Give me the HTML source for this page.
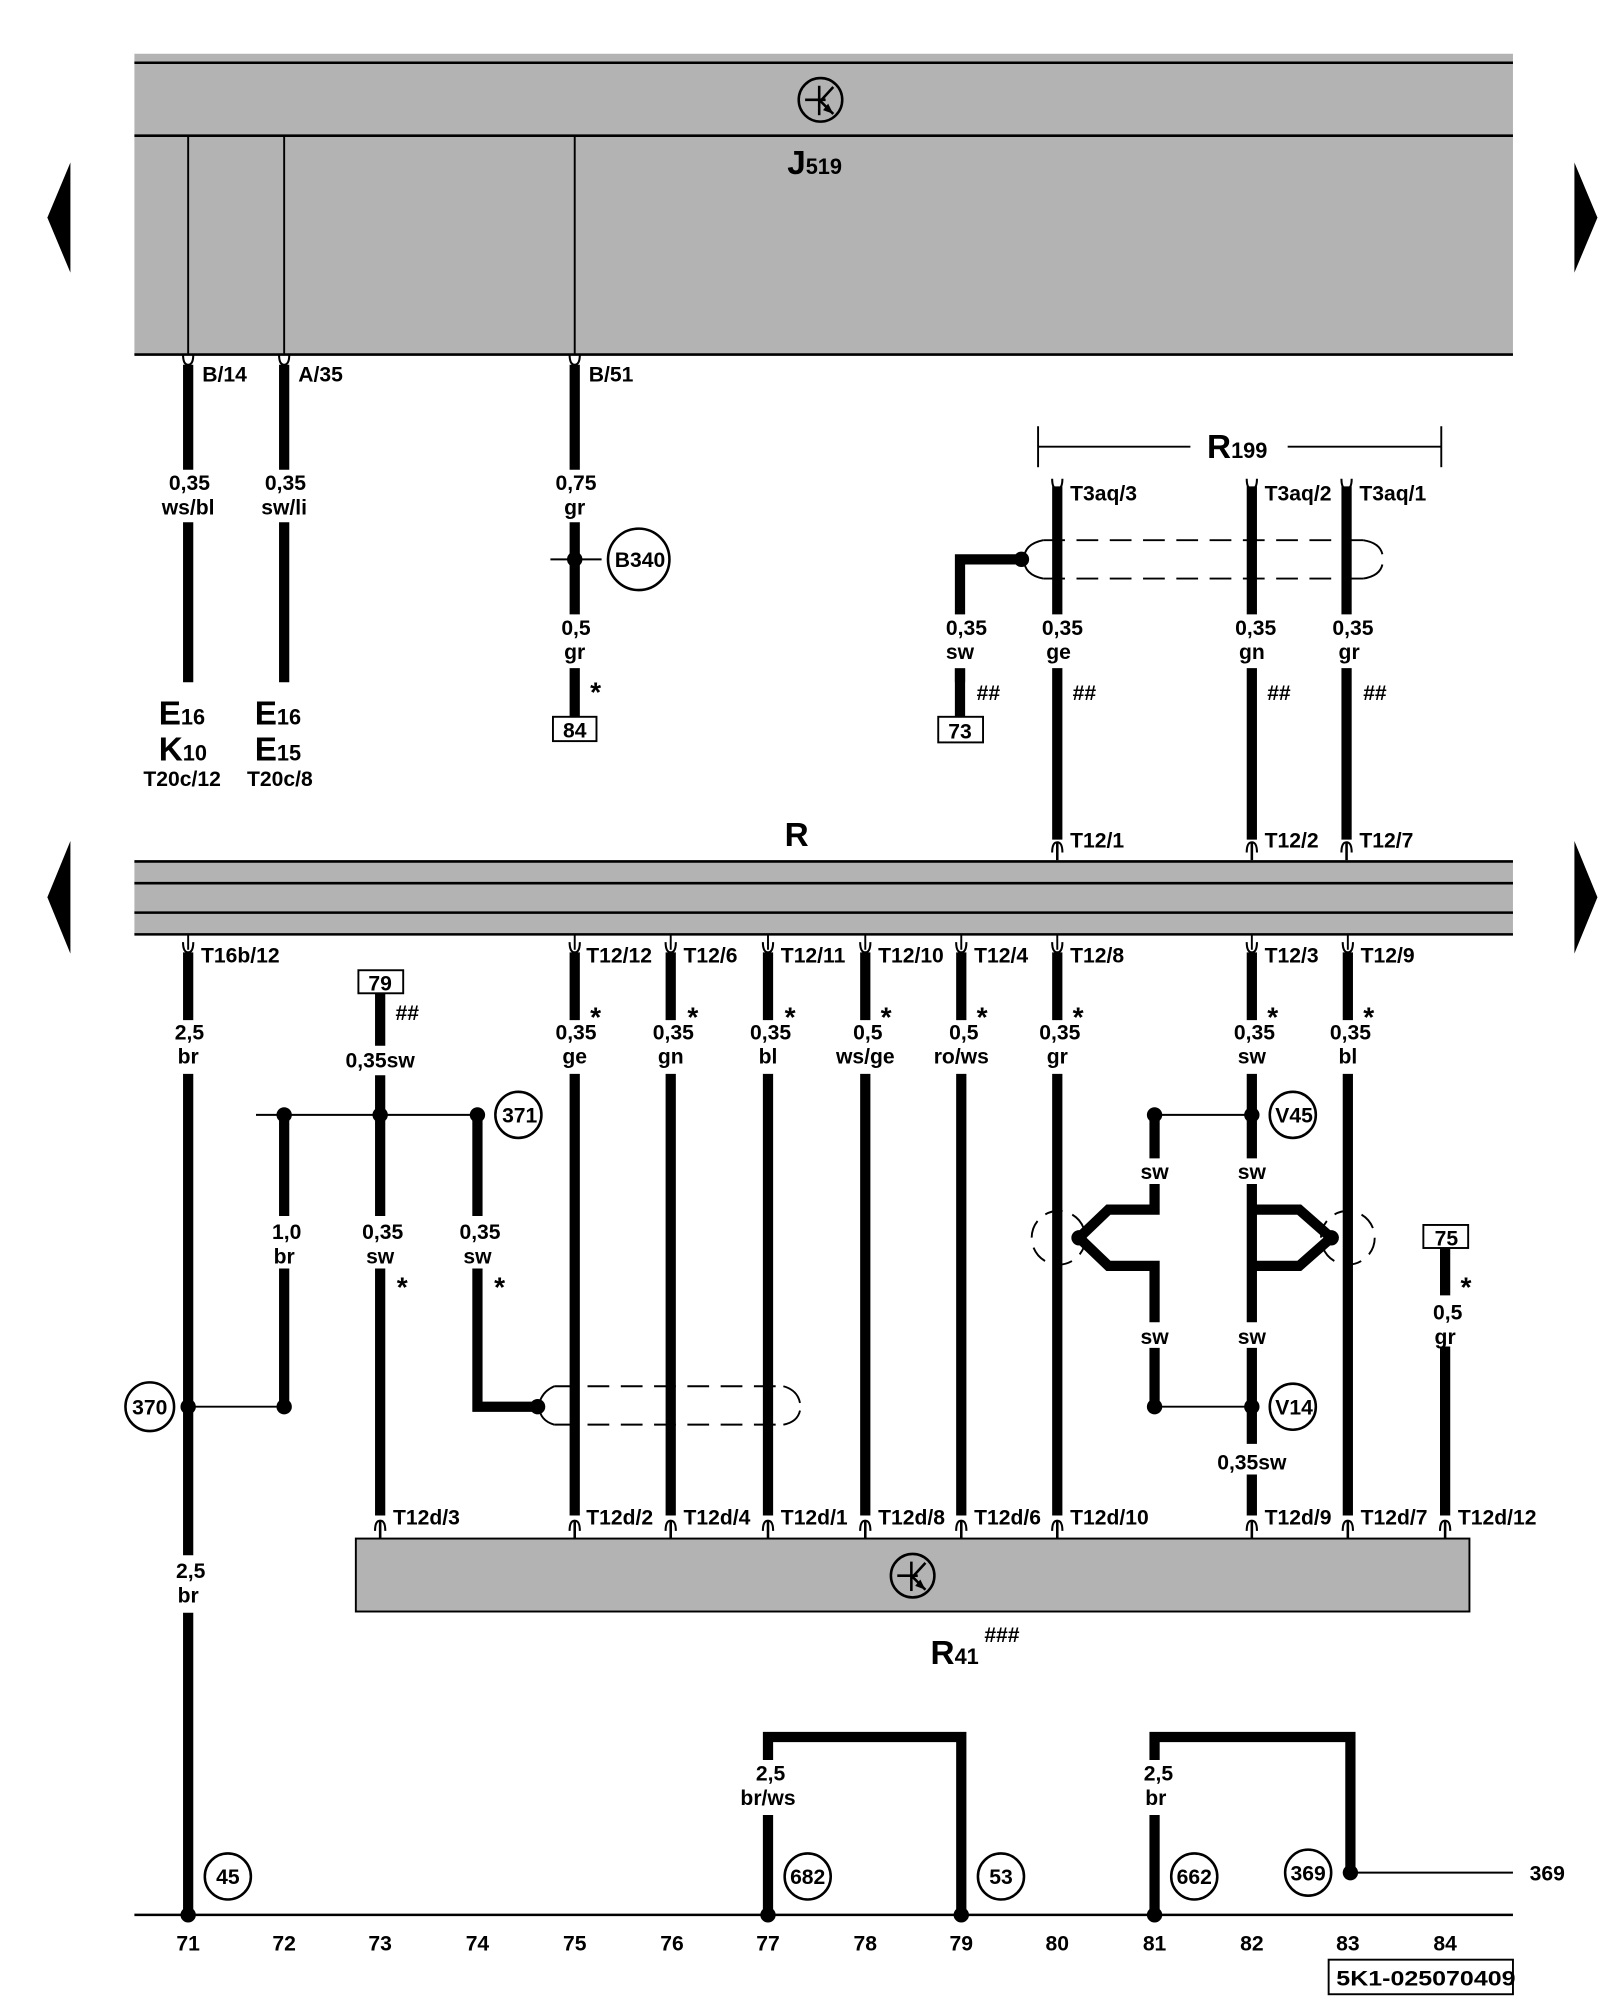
<!DOCTYPE html>
<html><head><meta charset="utf-8"><style>
html,body{margin:0;padding:0;background:#fff;}
svg{display:block;}
text{font-family:"Liberation Sans",sans-serif;font-weight:bold;fill:#000;}
.t{font-size:16.5px;}
.c{text-anchor:middle;}
.big{font-size:26px;}
.sub{font-size:17px;}
</style></head><body>
<svg width="1600" height="2000" viewBox="0 0 1250 1562.5" xmlns="http://www.w3.org/2000/svg">
<defs>
<g id="pinD"><path d="M-4,-6 Q-4,2 0,2 Q4,2 4,-6" fill="none" stroke="#000" stroke-width="1.6"/></g>
<g id="pinU"><path d="M-4,6 Q-4,-2 0,-2 Q4,-2 4,6" fill="none" stroke="#000" stroke-width="1.6"/><line x1="0" y1="-2" x2="0" y2="12" stroke="#000" stroke-width="2"/></g>
<g id="ecu"><circle r="17" fill="none" stroke="#000" stroke-width="2"/><line x1="-12" y1="0" x2="4" y2="0" stroke="#000" stroke-width="2"/><line x1="-1" y1="-11" x2="-1" y2="12" stroke="#000" stroke-width="2"/><line x1="-1" y1="2" x2="10" y2="-10" stroke="#000" stroke-width="2"/><line x1="-1" y1="0" x2="10" y2="11" stroke="#000" stroke-width="2"/><path d="M10,11 L2,8 L6,3 Z" fill="#000"/></g>
</defs>

<!-- J519 box -->
<rect x="105" y="42" width="1077" height="235" fill="#b3b3b3"/>
<line x1="105" y1="49" x2="1182" y2="49" stroke="#000" stroke-width="2"/>
<line x1="105" y1="106" x2="1182" y2="106" stroke="#000" stroke-width="2"/>
<line x1="105" y1="277" x2="1182" y2="277" stroke="#000" stroke-width="2"/>
<use href="#ecu" x="641" y="78"/>
<text x="615" y="136" style="font-size:26px">J<tspan class="sub">519</tspan></text>
<g stroke="#000" stroke-width="1.5"><line x1="147" y1="106" x2="147" y2="277"/><line x1="222" y1="106" x2="222" y2="277"/><line x1="449" y1="106" x2="449" y2="277"/></g>

<!-- side arrows -->
<polygon points="55,127 55,213 37,170" fill="#000"/>
<polygon points="1230,127 1230,213 1248,170" fill="#000"/>
<polygon points="55,657 55,745 37,701" fill="#000"/>
<polygon points="1230,657 1230,745 1248,701" fill="#000"/>

<!-- wires from J519 -->
<g stroke="#000" stroke-width="8">
<line x1="147" y1="285" x2="147" y2="367"/><line x1="147" y1="408" x2="147" y2="533"/>
<line x1="222" y1="285" x2="222" y2="367"/><line x1="222" y1="408" x2="222" y2="533"/>
<line x1="449" y1="285" x2="449" y2="367"/><line x1="449" y1="408" x2="449" y2="480"/><line x1="449" y1="522" x2="449" y2="560"/>
</g>
<use href="#pinD" x="147" y="283"/><use href="#pinD" x="222" y="283"/><use href="#pinD" x="449" y="283"/>
<text class="t" x="158" y="298">B/14</text><text class="t" x="233" y="298">A/35</text><text class="t" x="460" y="298">B/51</text>
<text class="t c" x="148" y="383">0,35</text><text class="t c" x="147" y="402">ws/bl</text>
<text class="t c" x="223" y="383">0,35</text><text class="t c" x="222" y="402">sw/li</text>
<text class="t c" x="450" y="383">0,75</text><text class="t c" x="449" y="402">gr</text>
<line x1="430" y1="437" x2="470" y2="437" stroke="#000" stroke-width="1.5"/>
<circle cx="449" cy="437" r="6" fill="#000"/>
<circle cx="499" cy="437" r="24" fill="none" stroke="#000" stroke-width="2"/>
<text class="t c" x="500" y="443">B340</text>
<text class="t c" x="450" y="496">0,5</text><text class="t c" x="449" y="515">gr</text>
<text x="461" y="548" style="font-size:22px">*</text>
<rect x="432" y="560" width="34" height="19" fill="#fff" stroke="#000" stroke-width="1.5"/>
<text class="t c" x="449" y="576">84</text>

<text x="124" y="566" class="big">E<tspan class="sub">16</tspan></text>
<text x="124" y="594" class="big">K<tspan class="sub">10</tspan></text>
<text x="112" y="614" class="t">T20c/12</text>
<text x="199" y="566" class="big">E<tspan class="sub">16</tspan></text>
<text x="199" y="594" class="big">E<tspan class="sub">15</tspan></text>
<text x="193" y="614" class="t">T20c/8</text>

<!-- R199 -->
<g stroke="#000" stroke-width="1.5">
<line x1="811" y1="333" x2="811" y2="365"/><line x1="1126" y1="333" x2="1126" y2="365"/>
<line x1="811" y1="349" x2="930" y2="349"/><line x1="1006" y1="349" x2="1126" y2="349"/>
</g>
<text x="943" y="358" class="big">R<tspan class="sub">199</tspan></text>
<g stroke="#000" stroke-width="8">
<line x1="826" y1="380" x2="826" y2="480"/><line x1="826" y1="522" x2="826" y2="656"/>
<line x1="978" y1="380" x2="978" y2="480"/><line x1="978" y1="522" x2="978" y2="656"/>
<line x1="1052" y1="380" x2="1052" y2="480"/><line x1="1052" y1="522" x2="1052" y2="656"/>
</g>
<use href="#pinD" x="826" y="380"/><use href="#pinD" x="978" y="380"/><use href="#pinD" x="1052" y="380"/>
<text class="t" x="836" y="391">T3aq/3</text><text class="t" x="988" y="391">T3aq/2</text><text class="t" x="1062" y="391">T3aq/1</text>
<g fill="none" stroke="#000" stroke-width="1.5">
<line x1="815" y1="422" x2="1065" y2="422" stroke-dasharray="17,9"/>
<line x1="815" y1="452" x2="1065" y2="452" stroke-dasharray="17,9"/>
<path d="M815,422 Q800,425 800,437 Q800,449 815,452"/>
<path d="M1065,422 Q1078,424 1080,433 M1080,441 Q1078,450 1065,452"/>
</g>
<path d="M798,437 L750,437 L750,533" fill="none" stroke="#000" stroke-width="8"/>
<line x1="750" y1="522" x2="750" y2="560" stroke="#000" stroke-width="8"/>
<rect x="740" y="480" width="20" height="42" fill="#fff"/>
<circle cx="798" cy="437" r="6" fill="#000"/>
<text class="t c" x="755" y="496">0,35</text><text class="t c" x="750" y="515">sw</text>
<rect x="733" y="560" width="35" height="20" fill="#fff" stroke="#000" stroke-width="1.5"/>
<text class="t c" x="750" y="577">73</text>
<text class="t c" x="830" y="496">0,35</text><text class="t c" x="827" y="515">ge</text>
<text class="t c" x="981" y="496">0,35</text><text class="t c" x="978" y="515">gn</text>
<text class="t c" x="1057" y="496">0,35</text><text class="t c" x="1054" y="515">gr</text>
<text class="t" x="763" y="547">##</text><text class="t" x="838" y="547">##</text><text class="t" x="990" y="547">##</text><text class="t" x="1065" y="547">##</text>
<use href="#pinU" x="826" y="660"/><use href="#pinU" x="978" y="660"/><use href="#pinU" x="1052" y="660"/>
<text class="t" x="836" y="662">T12/1</text><text class="t" x="988" y="662">T12/2</text><text class="t" x="1062" y="662">T12/7</text>

<!-- R bus -->
<text x="613" y="661" class="big">R</text>
<rect x="105" y="673" width="1077" height="57" fill="#b3b3b3"/>
<g stroke="#000" stroke-width="2">
<line x1="105" y1="673" x2="1182" y2="673"/><line x1="105" y1="690" x2="1182" y2="690"/>
<line x1="105" y1="713" x2="1182" y2="713"/><line x1="105" y1="730" x2="1182" y2="730"/>
</g>

<!-- lower connector labels -->
<g>
<use href="#pinD" x="147" y="742"/><use href="#pinD" x="449" y="742"/><use href="#pinD" x="524" y="742"/><use href="#pinD" x="600" y="742"/><use href="#pinD" x="676" y="742"/><use href="#pinD" x="751" y="742"/><use href="#pinD" x="826" y="742"/><use href="#pinD" x="978" y="742"/><use href="#pinD" x="1053" y="742"/>
</g>
<g stroke="#000" stroke-width="1.5">
<line x1="147" y1="730" x2="147" y2="742"/><line x1="449" y1="730" x2="449" y2="742"/><line x1="524" y1="730" x2="524" y2="742"/><line x1="600" y1="730" x2="600" y2="742"/><line x1="676" y1="730" x2="676" y2="742"/><line x1="751" y1="730" x2="751" y2="742"/><line x1="826" y1="730" x2="826" y2="742"/><line x1="978" y1="730" x2="978" y2="742"/><line x1="1053" y1="730" x2="1053" y2="742"/>
</g>
<text class="t" x="157" y="752">T16b/12</text>
<text class="t" x="458" y="752">T12/12</text><text class="t" x="534" y="752">T12/6</text><text class="t" x="610" y="752">T12/11</text><text class="t" x="686" y="752">T12/10</text><text class="t" x="761" y="752">T12/4</text><text class="t" x="836" y="752">T12/8</text><text class="t" x="988" y="752">T12/3</text><text class="t" x="1063" y="752">T12/9</text>

<!-- lower wires -->
<g stroke="#000" stroke-width="8">
<line x1="147" y1="744" x2="147" y2="797"/><line x1="147" y1="839" x2="147" y2="1215"/><line x1="147" y1="1260" x2="147" y2="1496"/>
<line x1="449" y1="744" x2="449" y2="797"/><line x1="449" y1="839" x2="449" y2="1184"/>
<line x1="524" y1="744" x2="524" y2="797"/><line x1="524" y1="839" x2="524" y2="1184"/>
<line x1="600" y1="744" x2="600" y2="797"/><line x1="600" y1="839" x2="600" y2="1184"/>
<line x1="676" y1="744" x2="676" y2="797"/><line x1="676" y1="839" x2="676" y2="1184"/>
<line x1="751" y1="744" x2="751" y2="797"/><line x1="751" y1="839" x2="751" y2="1184"/>
<line x1="826" y1="744" x2="826" y2="797"/><line x1="826" y1="839" x2="826" y2="1184"/>
<line x1="978" y1="744" x2="978" y2="797"/><line x1="978" y1="839" x2="978" y2="905"/><line x1="978" y1="925" x2="978" y2="1033"/><line x1="978" y1="1053" x2="978" y2="1128"/><line x1="978" y1="1152" x2="978" y2="1184"/>
<line x1="1053" y1="744" x2="1053" y2="797"/><line x1="1053" y1="839" x2="1053" y2="1184"/>
<line x1="297" y1="776" x2="297" y2="817"/><line x1="297" y1="840" x2="297" y2="950"/><line x1="297" y1="991" x2="297" y2="1184"/>
<line x1="222" y1="871" x2="222" y2="950"/><line x1="222" y1="991" x2="222" y2="1099"/>
<line x1="373" y1="871" x2="373" y2="950"/>
<path d="M373,991 L373,1099 L420,1099" fill="none"/>
<line x1="1129" y1="975" x2="1129" y2="1012"/><line x1="1129" y1="1052" x2="1129" y2="1184"/>
<path d="M902,871 L902,905 M902,925 L902,945 L866,945 L843,967 L866,989 L902,989 L902,1033 M902,1053 L902,1099" fill="none"/>
<path d="M978,945 L1015,945 L1040,967 L1015,989 L978,989" fill="none"/>
<path d="M600,1496 L600,1418 M600,1375 L600,1357 L751,1357 L751,1496" fill="none"/>
<path d="M902,1496 L902,1418 M902,1375 L902,1357 L1055,1357 L1055,1463" fill="none"/>
</g>

<!-- wire labels lower -->
<text class="t c" x="148" y="812">2,5</text><text class="t c" x="147" y="831">br</text>
<text class="t c" x="450" y="812">0,35</text><text class="t c" x="449" y="831">ge</text>
<text class="t c" x="526" y="812">0,35</text><text class="t c" x="524" y="831">gn</text>
<text class="t c" x="602" y="812">0,35</text><text class="t c" x="600" y="831">bl</text>
<text class="t c" x="678" y="812">0,5</text><text class="t c" x="676" y="831">ws/ge</text>
<text class="t c" x="753" y="812">0,5</text><text class="t c" x="751" y="831">ro/ws</text>
<text class="t c" x="828" y="812">0,35</text><text class="t c" x="826" y="831">gr</text>
<text class="t c" x="980" y="812">0,35</text><text class="t c" x="978" y="831">sw</text>
<text class="t c" x="1055" y="812">0,35</text><text class="t c" x="1053" y="831">bl</text>
<g style="font-size:22px">
<text x="461" y="802">*</text><text x="537" y="802">*</text><text x="613" y="802">*</text><text x="688" y="802">*</text><text x="763" y="802">*</text><text x="838" y="802">*</text><text x="990" y="802">*</text><text x="1065" y="802">*</text>
<text x="310" y="1013">*</text><text x="386" y="1013">*</text><text x="1141" y="1013">*</text>
</g>

<rect x="280" y="758" width="35" height="18" fill="#fff" stroke="#000" stroke-width="1.5"/>
<text class="t c" x="297" y="774">79</text>
<text class="t" x="309" y="797">##</text>
<text class="t c" x="297" y="834">0,35sw</text>

<!-- junction 371 -->
<line x1="200" y1="871" x2="373" y2="871" stroke="#000" stroke-width="1.5"/>
<circle cx="222" cy="871" r="6" fill="#000"/><circle cx="297" cy="871" r="6" fill="#000"/><circle cx="373" cy="871" r="6" fill="#000"/>
<circle cx="405" cy="871" r="18" fill="none" stroke="#000" stroke-width="2"/><text class="t c" x="406" y="877">371</text>
<text class="t c" x="224" y="968">1,0</text><text class="t c" x="222" y="987">br</text>
<text class="t c" x="299" y="968">0,35</text><text class="t c" x="297" y="987">sw</text>
<text class="t c" x="375" y="968">0,35</text><text class="t c" x="373" y="987">sw</text>

<!-- 370 -->
<line x1="147" y1="1099" x2="222" y2="1099" stroke="#000" stroke-width="1.5"/>
<circle cx="147" cy="1099" r="6" fill="#000"/><circle cx="222" cy="1099" r="6" fill="#000"/>
<circle cx="117" cy="1099" r="19" fill="#fff" stroke="#000" stroke-width="2"/><text class="t c" x="117" y="1105">370</text>
<text class="t c" x="149" y="1233">2,5</text><text class="t c" x="147" y="1252">br</text>

<!-- shield lower -->
<circle cx="420" cy="1099" r="6" fill="#000"/>
<g fill="none" stroke="#000" stroke-width="1.5">
<line x1="433" y1="1083" x2="612" y2="1083" stroke-dasharray="17,9"/>
<line x1="433" y1="1113" x2="612" y2="1113" stroke-dasharray="17,9"/>
<path d="M433,1083 Q422,1088 421,1099 Q422,1110 433,1113"/>
<path d="M612,1083 Q623,1086 625,1096 M625,1102 Q623,1111 612,1113"/>
</g>

<!-- V45 / V14 -->
<line x1="902" y1="871" x2="978" y2="871" stroke="#000" stroke-width="1.5"/>
<line x1="902" y1="1099" x2="978" y2="1099" stroke="#000" stroke-width="1.5"/>
<circle cx="902" cy="871" r="6" fill="#000"/><circle cx="978" cy="871" r="6" fill="#000"/>
<circle cx="902" cy="1099" r="6" fill="#000"/><circle cx="978" cy="1099" r="6" fill="#000"/>
<circle cx="843" cy="967" r="6" fill="#000"/><circle cx="1040" cy="967" r="6" fill="#000"/>
<circle cx="1010" cy="871" r="18" fill="#fff" stroke="#000" stroke-width="2"/><text class="t c" x="1011" y="877">V45</text>
<circle cx="1010" cy="1099" r="18" fill="#fff" stroke="#000" stroke-width="2"/><text class="t c" x="1011" y="1105">V14</text>
<g fill="none" stroke="#000" stroke-width="1.5" stroke-dasharray="14,8">
<circle cx="827" cy="967" r="21"/><circle cx="1053" cy="967" r="21"/>
</g>
<text class="t c" x="902" y="921">sw</text><text class="t c" x="978" y="921">sw</text>
<text class="t c" x="902" y="1050">sw</text><text class="t c" x="978" y="1050">sw</text>
<text class="t c" x="978" y="1148">0,35sw</text>

<rect x="1112" y="957" width="35" height="18" fill="#fff" stroke="#000" stroke-width="1.5"/>
<text class="t c" x="1130" y="973">75</text>
<text class="t c" x="1131" y="1031">0,5</text><text class="t c" x="1129" y="1050">gr</text>

<!-- R41 -->
<rect x="278" y="1202" width="870" height="57" fill="#b3b3b3" stroke="#000" stroke-width="1.5"/>
<use href="#ecu" x="713" y="1231"/>
<text x="727" y="1300" class="big">R<tspan class="sub">41</tspan></text>
<text x="769" y="1283" class="t">###</text>
<g>
<use href="#pinU" x="297" y="1190"/><use href="#pinU" x="449" y="1190"/><use href="#pinU" x="524" y="1190"/><use href="#pinU" x="600" y="1190"/><use href="#pinU" x="676" y="1190"/><use href="#pinU" x="751" y="1190"/><use href="#pinU" x="826" y="1190"/><use href="#pinU" x="978" y="1190"/><use href="#pinU" x="1053" y="1190"/><use href="#pinU" x="1129" y="1190"/>
</g>
<text class="t" x="307" y="1191">T12d/3</text><text class="t" x="458" y="1191">T12d/2</text><text class="t" x="534" y="1191">T12d/4</text><text class="t" x="610" y="1191">T12d/1</text><text class="t" x="686" y="1191">T12d/8</text><text class="t" x="761" y="1191">T12d/6</text><text class="t" x="836" y="1191">T12d/10</text><text class="t" x="988" y="1191">T12d/9</text><text class="t" x="1063" y="1191">T12d/7</text><text class="t" x="1139" y="1191">T12d/12</text>

<!-- bottom -->
<text class="t c" x="602" y="1391">2,5</text><text class="t c" x="600" y="1410">br/ws</text>
<text class="t c" x="905" y="1391">2,5</text><text class="t c" x="903" y="1410">br</text>
<line x1="1055" y1="1463" x2="1182" y2="1463" stroke="#000" stroke-width="1.5"/>
<circle cx="1055" cy="1463" r="6" fill="#000"/>
<text class="t" x="1195" y="1469">369</text>
<line x1="105" y1="1496" x2="1182" y2="1496" stroke="#000" stroke-width="2"/>
<circle cx="147" cy="1496" r="6" fill="#000"/><circle cx="600" cy="1496" r="6" fill="#000"/><circle cx="751" cy="1496" r="6" fill="#000"/><circle cx="902" cy="1496" r="6" fill="#000"/>
<g fill="none" stroke="#000" stroke-width="2">
<circle cx="178" cy="1466" r="18"/><circle cx="631" cy="1466" r="18"/><circle cx="782" cy="1466" r="18"/><circle cx="933" cy="1466" r="18"/><circle cx="1022" cy="1463" r="18"/>
</g>
<text class="t c" x="178" y="1472">45</text><text class="t c" x="631" y="1472">682</text><text class="t c" x="782" y="1472">53</text><text class="t c" x="933" y="1472">662</text><text class="t c" x="1022" y="1469">369</text>
<g class="t">
<text class="t c" x="147" y="1524">71</text><text class="t c" x="222" y="1524">72</text><text class="t c" x="297" y="1524">73</text><text class="t c" x="373" y="1524">74</text><text class="t c" x="449" y="1524">75</text><text class="t c" x="525" y="1524">76</text><text class="t c" x="600" y="1524">77</text><text class="t c" x="676" y="1524">78</text><text class="t c" x="751" y="1524">79</text><text class="t c" x="826" y="1524">80</text><text class="t c" x="902" y="1524">81</text><text class="t c" x="978" y="1524">82</text><text class="t c" x="1053" y="1524">83</text><text class="t c" x="1129" y="1524">84</text>
</g>
<rect x="1038" y="1531" width="144" height="27" fill="#fff" stroke="#000" stroke-width="1.5"/>
<text class="t" x="1044" y="1551" textLength="140" lengthAdjust="spacingAndGlyphs">5K1-025070409</text>
</svg>
</body></html>
